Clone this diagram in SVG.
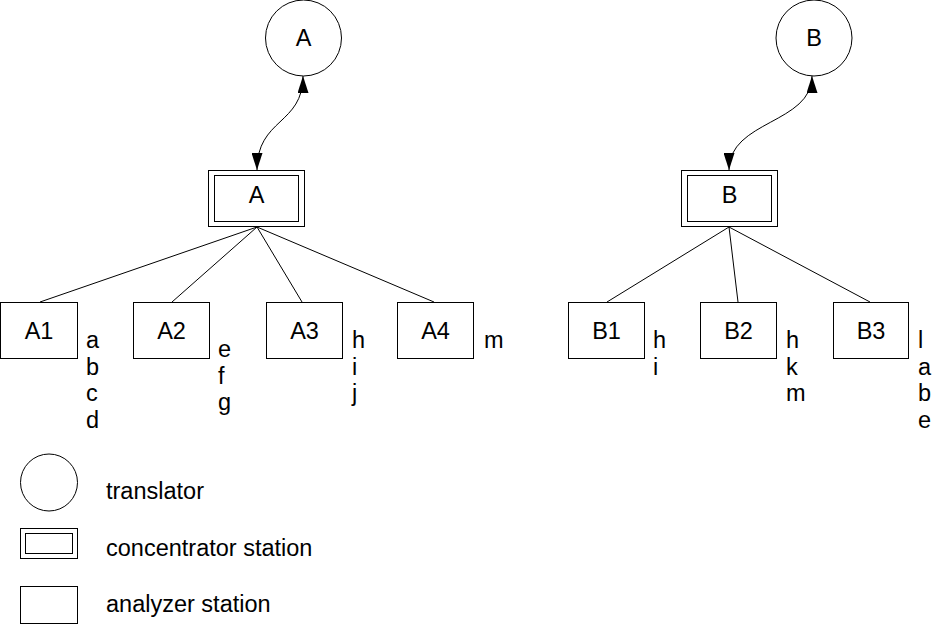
<svg xmlns="http://www.w3.org/2000/svg" width="948" height="626" viewBox="0 0 948 626">
<style>
.s{fill:#fff;stroke:#000;stroke-width:1}
.t{font-family:"Liberation Sans",Arial,sans-serif;font-size:23.5px;fill:#000}
.c{text-anchor:middle}
.l{fill:none;stroke:#000;stroke-width:1}
</style>
<defs>
<marker id="ah" viewBox="0 0 17 11" refX="17" refY="5.5" markerWidth="17" markerHeight="11" markerUnits="userSpaceOnUse" orient="auto-start-reverse">
<path d="M0,0 L17,5.5 L0,11 z" fill="#000"/>
</marker>
</defs>
<rect width="948" height="626" fill="#fff"/>
<g id="connectors">
<path class="l" d="M303,76 C303,125 257,118 257,170" marker-start="url(#ah)" marker-end="url(#ah)"/>
<path class="l" d="M812,76 C812,124 729,120 729,170" marker-start="url(#ah)" marker-end="url(#ah)"/>
<line class="l" x1="257" y1="227" x2="40" y2="302"/>
<line class="l" x1="257" y1="227" x2="172" y2="302"/>
<line class="l" x1="257" y1="227" x2="302" y2="302"/>
<line class="l" x1="257" y1="227" x2="434" y2="302"/>
<line class="l" x1="729" y1="227" x2="607" y2="302"/>
<line class="l" x1="729" y1="227" x2="738" y2="302"/>
<line class="l" x1="729" y1="227" x2="870" y2="302"/>
</g>
<g id="translatorA">
<circle class="s" cx="303.5" cy="38" r="38"/>
<text class="t c" x="303.5" y="46">A</text>
</g>
<g id="translatorB">
<circle class="s" cx="814" cy="38" r="38"/>
<text class="t c" x="814" y="46">B</text>
</g>
<g id="concentratorA">
<rect class="s" x="208.5" y="170.5" width="96" height="56"/>
<rect class="s" x="214.5" y="175.5" width="84" height="46"/>
<text class="t c" x="256.5" y="203">A</text>
</g>
<g id="concentratorB">
<rect class="s" x="681.5" y="170.5" width="96" height="56"/>
<rect class="s" x="687.5" y="175.5" width="84" height="46"/>
<text class="t c" x="729.5" y="203">B</text>
</g>
<g id="A1">
<rect class="s" x="0.5" y="302.5" width="77" height="56"/>
<text class="t c" x="39" y="339">A1</text>
<text class="t" x="86" y="348">a</text>
<text class="t" x="86" y="374.5">b</text>
<text class="t" x="86" y="401">c</text>
<text class="t" x="86" y="428">d</text>
</g>
<g id="A2">
<rect class="s" x="133.5" y="302.5" width="76" height="56"/>
<text class="t c" x="171.5" y="339">A2</text>
<text class="t" x="218" y="357">e</text>
<text class="t" x="218" y="383.5">f</text>
<text class="t" x="218" y="410">g</text>
</g>
<g id="A3">
<rect class="s" x="266.5" y="302.5" width="76" height="56"/>
<text class="t c" x="304.5" y="339">A3</text>
<text class="t" x="352" y="348">h</text>
<text class="t" x="352" y="374.5">i</text>
<text class="t" x="352" y="401">j</text>
</g>
<g id="A4">
<rect class="s" x="397.5" y="302.5" width="76" height="56"/>
<text class="t c" x="435.5" y="339">A4</text>
<text class="t" x="484" y="348">m</text>
</g>
<g id="B1">
<rect class="s" x="568.5" y="302.5" width="76" height="56"/>
<text class="t c" x="606.5" y="339">B1</text>
<text class="t" x="653" y="348">h</text>
<text class="t" x="653" y="374.5">i</text>
</g>
<g id="B2">
<rect class="s" x="700.5" y="302.5" width="76" height="56"/>
<text class="t c" x="738.5" y="339">B2</text>
<text class="t" x="786" y="348">h</text>
<text class="t" x="786" y="374.5">k</text>
<text class="t" x="786" y="401">m</text>
</g>
<g id="B3">
<rect class="s" x="833.5" y="302.5" width="75" height="56"/>
<text class="t c" x="871" y="339">B3</text>
<text class="t" x="918" y="348">l</text>
<text class="t" x="918" y="374.5">a</text>
<text class="t" x="918" y="401">b</text>
<text class="t" x="918" y="428">e</text>
</g>
<g id="legend-translator">
<circle class="s" cx="49" cy="482.5" r="28.5"/>
<text class="t" x="106" y="499">translator</text>
</g>
<g id="legend-concentrator">
<rect class="s" x="20.5" y="528.5" width="57" height="30"/>
<rect class="s" x="25.5" y="533.5" width="47" height="20"/>
<text class="t" x="106" y="555.5">concentrator station</text>
</g>
<g id="legend-analyzer">
<rect class="s" x="20.5" y="586.5" width="57" height="37"/>
<text class="t" x="106" y="612">analyzer station</text>
</g>
</svg>
